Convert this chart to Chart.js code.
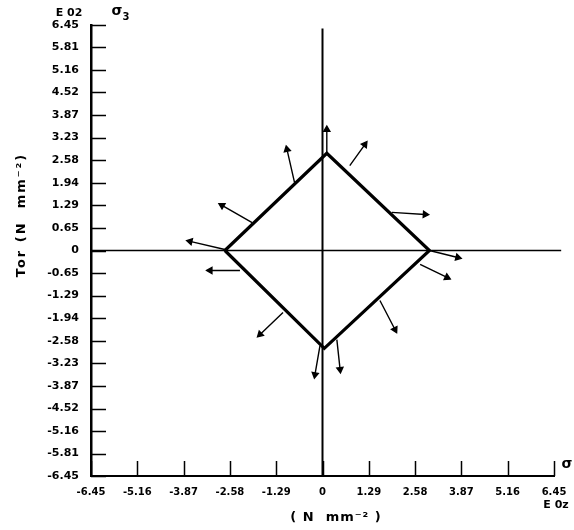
<!DOCTYPE html>
<html>
<head>
<meta charset="utf-8">
<script src="https://cdn.jsdelivr.net/npm/chart.js@4.4.0/dist/chart.umd.min.js"></script>
<style>
  html, body { margin: 0; padding: 0; background: #fff; }
  #wrap { width: 574px; height: 530px; }
</style>
</head>
<body>
<div id="wrap"><canvas id="c" width="574" height="530"></canvas></div>
<script>
// tick values on both axes (units of E 02 N mm^-2)
const xTicks = [-6.45, -5.16, -3.87, -2.58, -1.29, 0, 1.29, 2.58, 3.87, 5.16, 6.45];
const yTicks = [6.45, 5.81, 5.16, 4.52, 3.87, 3.23, 2.58, 1.94, 1.29, 0.65, 0,
  -0.65, -1.29, -1.94, -2.58, -3.23, -3.87, -4.52, -5.16, -5.81, -6.45];

// yield locus (diamond), closed
const locusX = [-2.72, 0.12, 2.98, 0.05, -2.72];
const locusY = [0, 2.78, 0, -2.8, 0];

// reference axes through the origin
const hAxisX = [-6.45, 6.65];
const hAxisY = [0, 0];
const vAxisX = [0, 0];
const vAxisY = [-6.45, 6.35];

// normal arrows: start point on the locus -> tip
const arrowX0 = [0.12, -0.78, 0.76, -1.96, -2.72, 1.93, 2.98, 2.72, -2.30, -1.10, 1.60, -0.07, 0.40];
const arrowY0 = [2.77, 1.95, 2.43, 0.80, 0.03, 1.09, 0.00, -0.40, -0.57, -1.77, -1.43, -2.72, -2.55];
const arrowX1 = [0.12, -0.99, 1.18, -2.80, -3.69, 2.86, 3.77, 3.47, -3.13, -1.74, 2.02, -0.21, 0.49];
const arrowY1 = [3.46, 2.89, 3.03, 1.29, 0.26, 1.03, -0.20, -0.77, -0.57, -2.40, -2.26, -3.55, -3.40];

const pts = (xs, ys) => xs.map((x, i) => ({ x: x, y: ys[i] }));

// each arrow is two points followed by a gap
const arrowData = [];
arrowX0.forEach((x, i) => {
  arrowData.push({ x: x, y: arrowY0[i] });
  arrowData.push({ x: arrowX1[i], y: arrowY1[i] });
  arrowData.push({ x: null, y: null });
});

const FONT = 'DejaVu Sans';

// rotation of the arrow head, taken from the pixel direction of the segment
function headRotation(ctx) {
  const i = ctx.dataIndex;
  if (i % 3 !== 1) return 0;
  const ch = ctx.chart;
  const a = arrowData[i - 1], b = arrowData[i];
  const dx = ch.scales.x.getPixelForValue(b.x) - ch.scales.x.getPixelForValue(a.x);
  const dy = ch.scales.y.getPixelForValue(b.y) - ch.scales.y.getPixelForValue(a.y);
  return Math.atan2(dx, -dy) * 180 / Math.PI;
}

// short tick marks drawn inside the plot, plus the loose labels
const decorations = {
  id: 'decorations',
  afterDraw(chart) {
    const ctx = chart.ctx;
    const xs = chart.scales.x, ys = chart.scales.y;
    const area = chart.chartArea;
    ctx.save();
    ctx.strokeStyle = '#000';
    ctx.lineWidth = 1.5;
    ctx.beginPath();
    yTicks.forEach(v => {
      const py = Math.round(ys.getPixelForValue(v)) + 0.5;
      ctx.moveTo(area.left, py);
      ctx.lineTo(area.left + 15, py);
    });
    xTicks.forEach(v => {
      const px = Math.round(xs.getPixelForValue(v)) + 0.5;
      ctx.moveTo(px, area.bottom);
      ctx.lineTo(px, area.bottom - 15);
    });
    ctx.stroke();

    ctx.fillStyle = '#000';
    ctx.textAlign = 'center';
    ctx.textBaseline = 'middle';
    ctx.font = 'bold 11px ' + FONT;
    ctx.fillText('E 02', 69, 13);
    ctx.fillText('E 0z', 556, 505);
    ctx.font = 'bold 14px ' + FONT;
    ctx.fillText('σ', 117, 11);
    ctx.fillText('σ', 567, 464);
    ctx.font = 'bold 10px ' + FONT;
    ctx.fillText('3', 126, 17);

    ctx.font = 'bold 13px ' + FONT;
    ctx.letterSpacing = '1px';
    ctx.fillText('( N  mm⁻² )', 336, 518);
    ctx.translate(22, 215);
    ctx.rotate(-Math.PI / 2);
    ctx.letterSpacing = '2px';
    ctx.fillText('Tor (N  mm⁻²)', 0, 0);
    ctx.restore();
  }
};

new Chart(document.getElementById('c'), {
  type: 'scatter',
  data: {
    datasets: [
      {
        data: pts(hAxisX, hAxisY),
        showLine: true, borderColor: '#000', borderWidth: 1.5,
        pointRadius: 0, clip: false
      },
      {
        data: pts(vAxisX, vAxisY),
        showLine: true, borderColor: '#000', borderWidth: 2,
        pointRadius: 0, clip: false
      },
      {
        data: pts(locusX, locusY),
        showLine: true, borderColor: '#000', borderWidth: 3.2,
        borderJoinStyle: 'miter', pointRadius: 0
      },
      {
        data: arrowData,
        showLine: true, spanGaps: false,
        borderColor: '#000', borderWidth: 1.4,
        pointStyle: 'triangle',
        pointRadius: ctx => ctx.dataIndex % 3 === 1 ? 3.5 : 0,
        pointRotation: headRotation,
        pointBackgroundColor: '#000', pointBorderColor: '#000',
        clip: false
      }
    ]
  },
  options: {
    responsive: false,
    animation: false,
    events: [],
    layout: { padding: { top: 25, right: 20, left: 0, bottom: 0 } },
    plugins: { legend: { display: false }, tooltip: { enabled: false } },
    scales: {
      x: {
        type: 'linear', min: -6.45, max: 6.45,
        afterBuildTicks: s => { s.ticks = xTicks.map(v => ({ value: v })); },
        afterFit: s => { s.height = 54; },
        grid: { display: false },
        border: { display: true, color: '#000', width: 2 },
        ticks: {
          color: '#000', padding: 2, maxRotation: 0, autoSkip: false,
          font: { family: FONT, size: 10, weight: 'bold' },
          callback: v => v === 0 ? '0' : v.toFixed(2)
        }
      },
      y: {
        type: 'linear', min: -6.45, max: 6.45,
        afterBuildTicks: s => { s.ticks = yTicks.map(v => ({ value: v })); },
        afterFit: s => { s.width = 91; },
        grid: { display: false },
        border: { display: true, color: '#000', width: 2.5 },
        ticks: {
          color: '#000', padding: 4, autoSkip: false,
          font: { family: FONT, size: 11, weight: 'bold' },
          callback: v => v === 0 ? '0' : v.toFixed(2)
        }
      }
    }
  },
  plugins: [decorations]
});
</script>
</body>
</html>
